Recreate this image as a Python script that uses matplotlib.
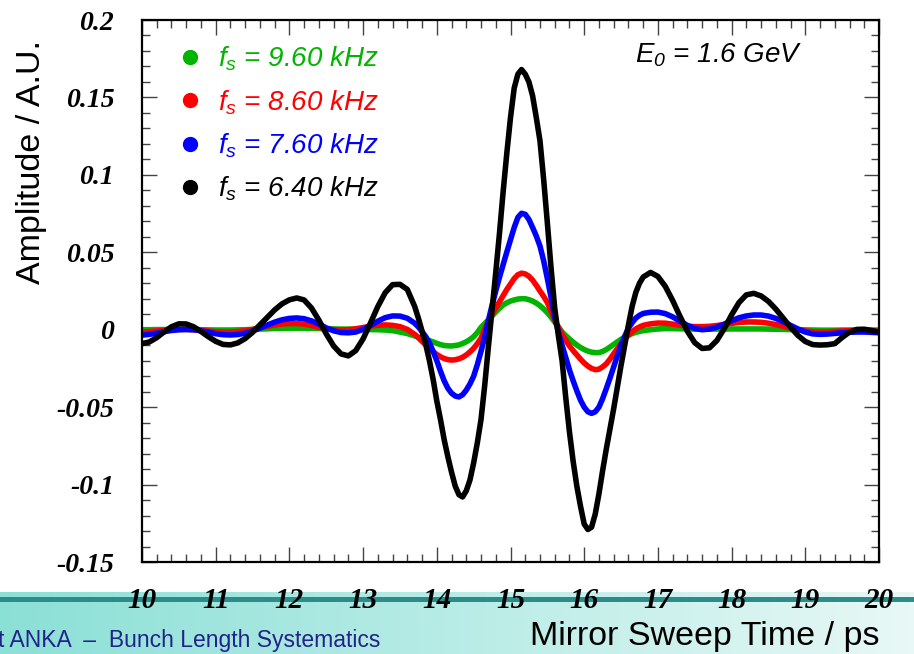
import matplotlib
matplotlib.use('Agg')
import matplotlib.pyplot as plt
import numpy as np
from matplotlib.colors import LinearSegmentedColormap
from matplotlib.lines import Line2D

# ---------------- data ----------------
t_ps = [10.0, 10.1, 10.2, 10.3, 10.4, 10.5, 10.6, 10.7, 10.8, 10.9,
        11.0, 11.1, 11.2, 11.3, 11.4, 11.5, 11.6, 11.7, 11.8, 11.9,
        12.0, 12.1, 12.2, 12.3, 12.4, 12.5, 12.6, 12.7, 12.8, 12.9,
        13.0, 13.1, 13.2, 13.3, 13.4, 13.5, 13.6,
        13.7, 13.75, 13.8, 13.85, 13.9, 13.95, 14.0, 14.05, 14.1, 14.15,
        14.2, 14.25, 14.3, 14.35, 14.4, 14.45, 14.5, 14.55, 14.6, 14.65,
        14.7, 14.75, 14.8, 14.85, 14.9, 14.95, 15.0, 15.05, 15.1, 15.15,
        15.2, 15.25, 15.3, 15.35, 15.4, 15.45, 15.5, 15.55, 15.6, 15.65,
        15.7, 15.75, 15.8, 15.85, 15.9, 15.95, 16.0, 16.05, 16.1, 16.15,
        16.2, 16.25, 16.3, 16.35, 16.4, 16.45, 16.5, 16.55, 16.6, 16.65,
        16.7, 16.75, 16.8,
        16.9, 17.0, 17.1, 17.2, 17.3, 17.4, 17.5, 17.6, 17.7, 17.8, 17.9,
        18.0, 18.1, 18.2, 18.3, 18.4, 18.5, 18.6, 18.7, 18.8, 18.9,
        19.0, 19.1, 19.2, 19.3, 19.4, 19.5, 19.6, 19.7, 19.8, 19.9,
        20.0]

amp_640 = [-0.0090, -0.0079, -0.0051, -0.0014, 0.0019, 0.0038, 0.0037, 0.0019, -0.0011, -0.0045,
           -0.0075, -0.0095, -0.0098, -0.0085, -0.0057, -0.0017, 0.0031, 0.0080, 0.0128, 0.0167,
           0.0193, 0.0205, 0.0192, 0.0140, 0.0062, -0.0027, -0.0105, -0.0156, -0.0169, -0.0135,
           -0.0059, 0.0043, 0.0150, 0.0239, 0.0291, 0.0293, 0.0260,
           0.0150, 0.0075, -0.0010, -0.0095, -0.0200, -0.0320, -0.0460, -0.0580, -0.0710, -0.0820,
           -0.0920, -0.1010, -0.1065, -0.1080, -0.1040, -0.0970, -0.0860, -0.0730, -0.0580, -0.0360,
           -0.0110, 0.0130, 0.0370, 0.0620, 0.0890, 0.1140, 0.1370, 0.1560, 0.1650, 0.1680,
           0.1650, 0.1600, 0.1510, 0.1370, 0.1220, 0.0970, 0.0690, 0.0400, 0.0140, -0.0040,
           -0.0200, -0.0440, -0.0660, -0.0850, -0.1010, -0.1140, -0.1255, -0.1290, -0.1275, -0.1190,
           -0.1060, -0.0910, -0.0770, -0.0640, -0.0510, -0.0370, -0.0230, -0.0100, 0.0030, 0.0150,
           0.0240, 0.0300, 0.0340,
           0.0370, 0.0344, 0.0280, 0.0189, 0.0086, -0.0010, -0.0084, -0.0121, -0.0117, -0.0070, 0.0007,
           0.0096, 0.0175, 0.0225, 0.0235, 0.0218, 0.0183, 0.0133, 0.0074, 0.0016, -0.0037,
           -0.0076, -0.0096, -0.0099, -0.0097, -0.0090, -0.0050, -0.0015, 0.0002, 0.0003, -0.0005,
           -0.0015]

amp_760 = [-0.0035, -0.0030, -0.0022, -0.0013, -0.0005, 0.0000, 0.0002, 0.0000, -0.0007, -0.0016,
           -0.0026, -0.0032, -0.0034, -0.0031, -0.0022, -0.0008, 0.0010, 0.0030, 0.0049, 0.0064,
           0.0073, 0.0076, 0.0071, 0.0057, 0.0036, 0.0012, -0.0007, -0.0018, -0.0020, -0.0015,
           0.0002, 0.0027, 0.0055, 0.0078, 0.0089, 0.0088, 0.0074,
           0.0042, 0.0018, -0.0012, -0.0045, -0.0085, -0.0140, -0.0200, -0.0268, -0.0330, -0.0378,
           -0.0410, -0.0428, -0.0434, -0.0420, -0.0390, -0.0350, -0.0300, -0.0225, -0.0140, -0.0045,
           0.0060, 0.0158, 0.0250, 0.0338, 0.0420, 0.0502, 0.0580, 0.0660, 0.0725, 0.0752,
           0.0745, 0.0712, 0.0660, 0.0605, 0.0540, 0.0445, 0.0330, 0.0210, 0.0080, -0.0015,
           -0.0100, -0.0180, -0.0260, -0.0330, -0.0395, -0.0455, -0.0500, -0.0530, -0.0540, -0.0530,
           -0.0500, -0.0445, -0.0380, -0.0312, -0.0240, -0.0168, -0.0100, -0.0042, 0.0010, 0.0045,
           0.0075, 0.0093, 0.0105,
           0.0113, 0.0114, 0.0104, 0.0083, 0.0055, 0.0028, 0.0008, 0.0000, 0.0004, 0.0016, 0.0036,
           0.0058, 0.0077, 0.0089, 0.0095, 0.0095, 0.0088, 0.0073, 0.0052, 0.0028, 0.0005,
           -0.0015, -0.0027, -0.0030, -0.0028, -0.0024, -0.0020, -0.0017, -0.0015, -0.0015, -0.0017,
           -0.0020]

amp_860 = [-0.0015, -0.0012, -0.0008, -0.0004, 0.0000, 0.0002, 0.0002, 0.0000, -0.0004, -0.0009,
           -0.0013, -0.0015, -0.0015, -0.0012, -0.0006, 0.0002, 0.0012, 0.0022, 0.0031, 0.0037,
           0.0040, 0.0040, 0.0036, 0.0027, 0.0016, 0.0006, 0.0000, -0.0002, 0.0000, 0.0006,
           0.0014, 0.0023, 0.0029, 0.0031, 0.0028, 0.0020, 0.0002,
           -0.0030, -0.0052, -0.0075, -0.0098, -0.0120, -0.0142, -0.0160, -0.0175, -0.0186, -0.0193,
           -0.0196, -0.0194, -0.0188, -0.0178, -0.0163, -0.0143, -0.0120, -0.0090, -0.0055, 0.0003,
           0.0055, 0.0100, 0.0140, 0.0180, 0.0220, 0.0260, 0.0295, 0.0330, 0.0355, 0.0365,
           0.0360, 0.0345, 0.0320, 0.0287, 0.0250, 0.0215, 0.0175, 0.0120, 0.0060, 0.0015,
           -0.0030, -0.0068, -0.0105, -0.0135, -0.0163, -0.0190, -0.0215, -0.0235, -0.0250, -0.0258,
           -0.0255, -0.0240, -0.0220, -0.0190, -0.0155, -0.0122, -0.0090, -0.0060, -0.0035, -0.0013,
           0.0005, 0.0018, 0.0028,
           0.0038, 0.0043, 0.0042, 0.0036, 0.0029, 0.0023, 0.0020, 0.0020, 0.0022, 0.0027, 0.0034,
           0.0041, 0.0047, 0.0050, 0.0050, 0.0048, 0.0042, 0.0033, 0.0022, 0.0010, 0.0000,
           -0.0008, -0.0013, -0.0015, -0.0014, -0.0011, -0.0008, -0.0006, -0.0005, -0.0005, -0.0007,
           -0.0010]

amp_960 = [0.0000, 0.0000, 0.0001, 0.0001, 0.0002, 0.0002, 0.0002, 0.0001, 0.0000, -0.0001,
           -0.0002, -0.0002, -0.0002, -0.0001, 0.0000, 0.0002, 0.0004, 0.0006, 0.0008, 0.0009,
           0.0010, 0.0010, 0.0010, 0.0009, 0.0008, 0.0006, 0.0005, 0.0004, 0.0004, 0.0003,
           0.0002, 0.0001, 0.0000, -0.0002, -0.0006, -0.0015, -0.0025,
           -0.0040, -0.0048, -0.0055, -0.0063, -0.0070, -0.0079, -0.0088, -0.0096, -0.0102, -0.0104,
           -0.0105, -0.0102, -0.0098, -0.0089, -0.0078, -0.0063, -0.0045, -0.0018, 0.0015, 0.0040,
           0.0063, 0.0089, 0.0115, 0.0138, 0.0160, 0.0174, 0.0185, 0.0192, 0.0198, 0.0200,
           0.0200, 0.0194, 0.0185, 0.0172, 0.0155, 0.0134, 0.0110, 0.0082, 0.0050, 0.0018,
           -0.0015, -0.0038, -0.0060, -0.0080, -0.0099, -0.0115, -0.0128, -0.0138, -0.0145, -0.0148,
           -0.0148, -0.0140, -0.0128, -0.0112, -0.0095, -0.0078, -0.0062, -0.0048, -0.0035, -0.0025,
           -0.0017, -0.0011, -0.0006,
           0.0000, 0.0005, 0.0007, 0.0007, 0.0006, 0.0005, 0.0004, 0.0004, 0.0004, 0.0004, 0.0004,
           0.0005, 0.0005, 0.0005, 0.0005, 0.0005, 0.0004, 0.0003, 0.0002, 0.0001, 0.0000,
           -0.0001, -0.0002, -0.0003, -0.0003, -0.0003, -0.0002, -0.0002, -0.0002, -0.0002, -0.0002,
           -0.0002]

series_labels = [r'$f_s$ = 9.60 kHz', r'$f_s$ = 8.60 kHz', r'$f_s$ = 7.60 kHz', r'$f_s$ = 6.40 kHz']
series_values = [amp_960, amp_860, amp_760, amp_640]
series_colors = ['#00b400', '#ff0000', '#0000ff', '#000000']

x_ticks = [10, 11, 12, 13, 14, 15, 16, 17, 18, 19, 20]
x_ticklabels = ['10', '11', '12', '13', '14', '15', '16', '17', '18', '19', '20']
y_ticks = [0.2, 0.15, 0.1, 0.05, 0.0, -0.05, -0.1, -0.15]
y_ticklabels = ['0.2', '0.15', '0.1', '0.05', '0', '-0.05', '-0.1', '-0.15']

# ---------------- style ----------------
plt.rcParams['mathtext.fontset'] = 'custom'
plt.rcParams['mathtext.it'] = 'Liberation Sans:italic'
plt.rcParams['mathtext.rm'] = 'Liberation Sans:italic'
plt.rcParams['font.family'] = ['Liberation Sans', 'DejaVu Sans']

W, H = 914, 654
fig = plt.figure(figsize=(W / 100, H / 100), dpi=100)

# bottom slide band (gradient + dark rule)
band = fig.add_axes([0, 0, 1, 62 / H])
grad = np.linspace(0, 1, 256)[None, :]
cmap = LinearSegmentedColormap.from_list('band', ['#8be0d6', '#b8ece6', '#e8f8f6'])
band.imshow(grad, aspect='auto', cmap=cmap, extent=[0, W, H, H - 62])
band.set_xlim(0, W)
band.set_ylim(H, H - 62)
band.axhspan(H - 57, H - 52, color='#2c8c8a', lw=0)
band.axis('off')

# main plot
ax = fig.add_axes([142 / W, 1 - 562 / H, 737 / W, 542 / H])
ax.set_facecolor('none')
for vals, col in zip(series_values, series_colors):
    ax.plot(t_ps, vals, color=col, lw=4.0, solid_joinstyle='round', solid_capstyle='round')

ax.set_xlim(10, 20)
ax.set_ylim(-0.15, 0.2)

ax.set_xticks(x_ticks, labels=x_ticklabels, family='Liberation Serif', weight='bold',
              style='italic', size=21)
ax.set_yticks(y_ticks, labels=y_ticklabels, family='Liberation Serif', weight='bold',
              style='italic', size=20)
ax.set_xticks(np.round(np.arange(10, 20.001, 0.2), 1), minor=True)
ax.set_yticks(np.round(np.arange(-0.15, 0.2001, 0.01), 2), minor=True)
ax.tick_params(which='both', direction='in', top=True, right=True, width=1.0, color='#444444')
ax.tick_params(which='major', length=11)
ax.tick_params(which='minor', length=5.5)
ax.tick_params(axis='y', which='major', pad=20)
ax.tick_params(axis='x', which='major', pad=18)
for s in ax.spines.values():
    s.set_linewidth(1.6)

# legend
handles = [Line2D([], [], ls='none', marker='o', ms=10, color=c) for c in series_colors]
leg = ax.legend(handles, series_labels, loc='upper left', bbox_to_anchor=(0.031, 0.9745),
                frameon=False, fontsize=20, labelcolor=series_colors,
                handlelength=1.0, handletextpad=0.5, labelspacing=0.53, borderaxespad=0)
for txt in leg.get_texts():
    txt.set_fontstyle('italic')

ax.text((635 - 142) / 737, (562 - 55) / 542, r'$E_0$ = 1.6 GeV', transform=ax.transAxes,
        fontsize=20, style='italic', ha='left', va='center')

# axis titles and slide footer
fig.text(32 / W, 1 - 162 / H, 'Amplitude / A.U.', rotation=90, ha='center', va='center',
         fontsize=24.5)
fig.text(880 / W, 1 - 637 / H, 'Mirror Sweep Time / ps', ha='right', va='center', fontsize=24.5)
fig.text(-2 / W, 1 - 640 / H, 't ANKA  \u2013  Bunch Length Systematics', ha='left', va='center',
         fontsize=16.5, color='#22228a')

fig.savefig('out.png', dpi=100)
